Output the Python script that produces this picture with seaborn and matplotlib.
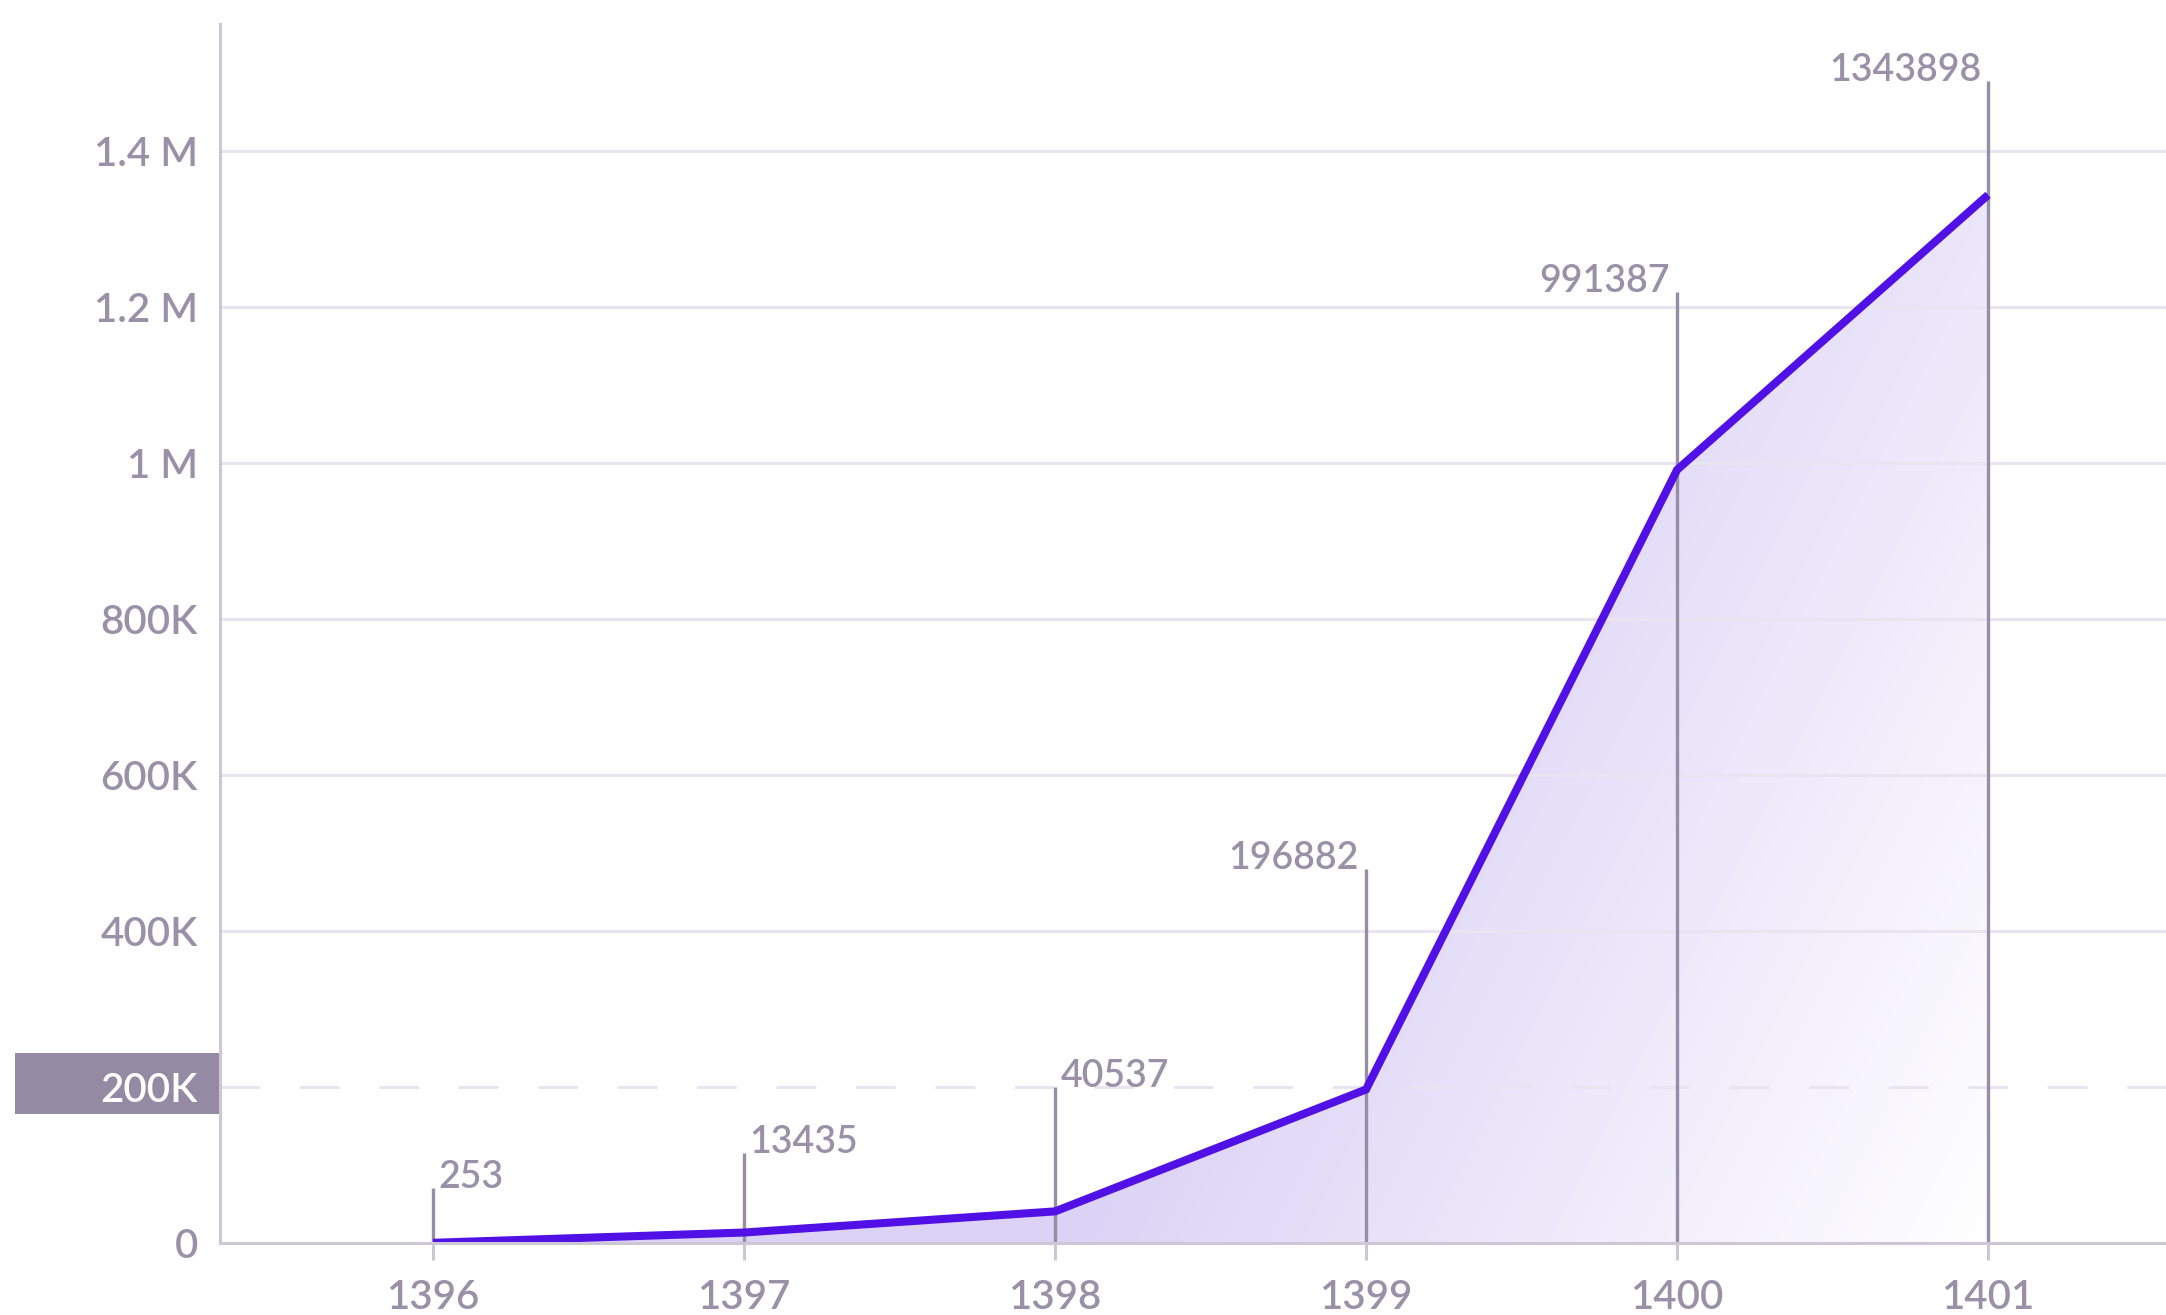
"""
Yearly growth chart (1396-1401) with gradient area fill
"""
import numpy as np
import pandas as pd
import matplotlib
matplotlib.use('Agg')
import matplotlib.pyplot as plt
import matplotlib.transforms as mtransforms
from matplotlib.patches import Rectangle
import seaborn as sns

# data
years = [1396, 1397, 1398, 1399, 1400, 1401]
values = [253, 13435, 40537, 196882, 991387, 1343898]
value_labels = ['253', '13435', '40537', '196882', '991387', '1343898']
y_ticks = [0, 200000, 400000, 600000, 800000, 1000000, 1200000, 1400000]
y_tick_labels = ['0', '200K', '400K', '600K', '800K', '1 M', '1.2 M', '1.4 M']
highlight_tick = 200000

# colours
LINE = '#5010e6'
TEXT = '#9a91a8'
SPINE = '#cbc7d5'
GRID = '#e8e5f0'
MARKER_LINE = '#958ea6'
BOX = '#948aa3'
FILL_START = np.array([0xdc, 0xd2, 0xf6]) / 255.0

sns.set_theme(style='white')
plt.rcParams['font.family'] = ['Lato', 'DejaVu Sans']
plt.rcParams['font.weight'] = 'semibold'

W, H = 2166, 1315
fig = plt.figure(figsize=(W / 100, H / 100), dpi=100)
ax = fig.add_axes([220 / W, 72 / H, 1946 / W, 1219 / H])

xlim = (1395.315, 1401.572)
ylim = (0, 1.563e6)

df = pd.DataFrame({'year': years, 'value': values})

# area under the line, used only as clip shape for the gradient
area = ax.fill_between(df['year'], df['value'], 0, facecolor='none', edgecolor='none')
ax.set_xlim(*xlim)
ax.set_ylim(*ylim)

# diagonal gradient: purple on the left, fading to white at lower right
gx = np.linspace(xlim[0], xlim[1], 500)
gy = np.linspace(ylim[0], ylim[1], 400)
GX, GY = np.meshgrid(gx, gy)
pix = ax.transData.transform(np.column_stack([GX.ravel(), GY.ravel()]))
anchor = ax.transData.transform((years[2], 0))
t = (pix[:, 0] - anchor[0]) * 1.073e-3 - (pix[:, 1] - anchor[1]) * 5.34e-4
t = np.clip(t, 0, 1).reshape(GX.shape)
rgb = FILL_START[None, None, :] * (1 - t[..., None]) + t[..., None]
im = ax.imshow(rgb, origin='lower', extent=[xlim[0], xlim[1], ylim[0], ylim[1]],
               aspect='auto', zorder=1, interpolation='bilinear')
im.set_clip_path(area.get_paths()[0], ax.transData)

# grid lines
for yt in y_ticks[1:]:
    if yt == highlight_tick:
        ax.axhline(yt, color=GRID, lw=2.2, dashes=(13, 13), zorder=1.5)
    else:
        ax.axhline(yt, color=GRID, lw=2.2, zorder=1.5)

# vertical value markers with labels
label_heights = [70000, 115000, 200000, 480000, 1220000, 1490000]
for i, (yr, lab, top) in enumerate(zip(years, value_labels, label_heights)):
    ax.vlines(yr, 0, top, color=MARKER_LINE, lw=2.4, zorder=2)
    if i < 3:
        ax.annotate(lab, (yr, top), xytext=(4, 0), textcoords='offset points',
                    ha='left', va='baseline', fontsize=27, color=TEXT)
    else:
        ax.annotate(lab, (yr, top), xytext=(-5, 0), textcoords='offset points',
                    ha='right', va='baseline', fontsize=27, color=TEXT)

sns.lineplot(data=df, x='year', y='value', ax=ax, color=LINE, lw=5.8,
             zorder=3, solid_joinstyle='miter', solid_capstyle='butt')

# axes styling
ax.set_xlim(*xlim)
ax.set_ylim(*ylim)
ax.set_xlabel('')
ax.set_ylabel('')
ax.set_xticks(years)
ax.set_xticklabels([str(y) for y in years])
ax.set_yticks(y_ticks)
ax.set_yticklabels(y_tick_labels)
ax.tick_params(axis='x', length=12, width=2.2, color=SPINE, pad=14,
               labelsize=29, labelcolor=TEXT, bottom=True)
ax.tick_params(axis='y', length=0, pad=16, labelsize=29, labelcolor=TEXT, left=True)
for side in ['top', 'right']:
    ax.spines[side].set_visible(False)
for side in ['left', 'bottom']:
    ax.spines[side].set_color(SPINE)
    ax.spines[side].set_linewidth(2.2)
    ax.spines[side].set_zorder(4)

# highlighted 200K tick label on a filled box
for lbl, yt in zip(ax.get_yticklabels(), y_ticks):
    if yt == highlight_tick:
        lbl.set_color('white')
trans = mtransforms.blended_transform_factory(fig.transFigure, ax.transData)
ax.add_patch(Rectangle((15 / W, highlight_tick - 34000), 205 / W, 78000,
                       transform=trans, facecolor=BOX, edgecolor='none',
                       clip_on=False, zorder=0.1))

fig.savefig('out.png', dpi=100, facecolor='white')
